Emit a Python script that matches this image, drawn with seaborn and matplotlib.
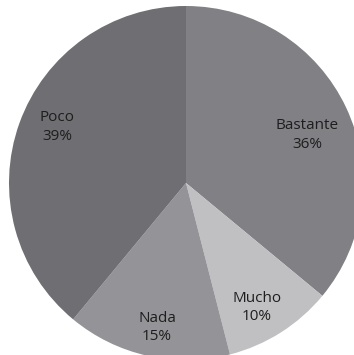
import matplotlib
matplotlib.use("Agg")
import matplotlib.pyplot as plt
import seaborn as sns

# Survey answers, clockwise from 12 o'clock
categories = ["Bastante", "Mucho", "Nada", "Poco"]
percentages = [36, 10, 15, 39]
slice_colors = ["#808085", "#c0c0c2", "#949498", "#6e6e73"]

# Where each two-line label sits (pie units, centre = 0,0, radius = 1)
label_xy = [(0.684, 0.271), (0.401, -0.703), (-0.164, -0.816), (-0.729, 0.316)]

sns.set_theme(style="white")
plt.rcParams["font.family"] = ["Open Sans", "DejaVu Sans"]

W, H = 354, 355
R = 177.0
CX, CY = 186.0, 183.0  # centre in pixels from top-left

fig = plt.figure(figsize=(W / 100, H / 100), dpi=100)
ax = fig.add_axes([0, 0, 1, 1])

ax.pie(
    percentages,
    colors=sns.color_palette(slice_colors),
    startangle=90,
    counterclock=False,
    radius=1.0,
    wedgeprops=dict(linewidth=0),
)

for name, pct, (x, y) in zip(categories, percentages, label_xy):
    ax.text(x, y, f"{name}\n{pct}%", ha="center", va="center",
            fontsize=11, fontweight="medium", color="#1e1e1e",
            linespacing=1.3)

ax.set_aspect("auto")
ax.set_xlim(-CX / R, (W - CX) / R)
ax.set_ylim(-(H - CY) / R, CY / R)
ax.axis("off")

fig.savefig("out.png", dpi=100, facecolor="white")
